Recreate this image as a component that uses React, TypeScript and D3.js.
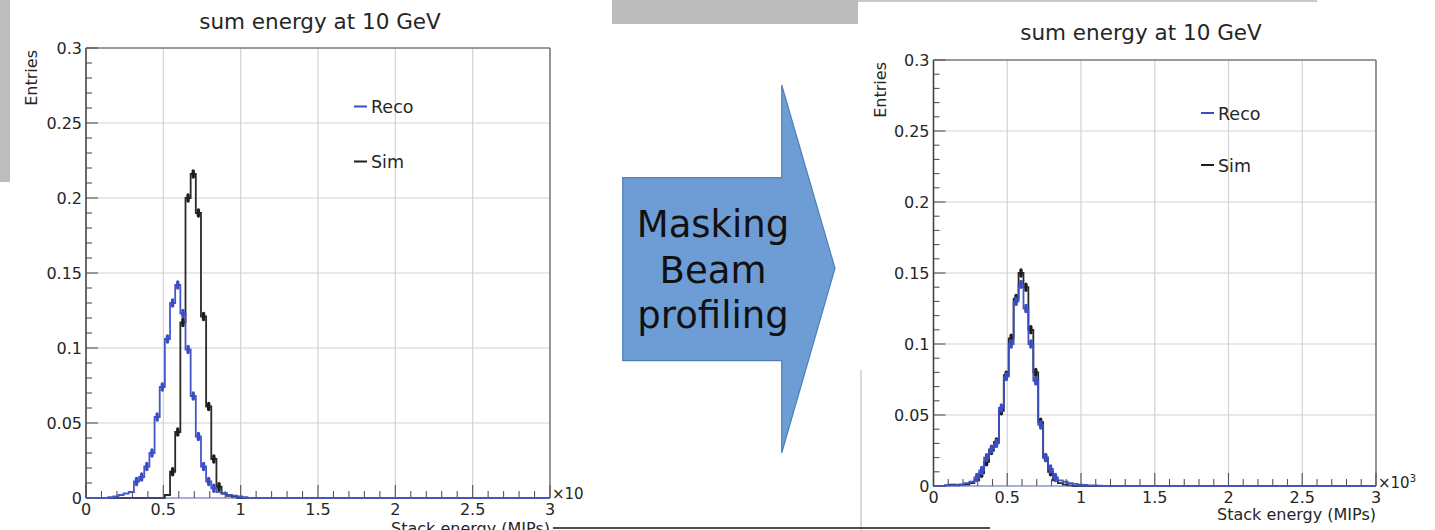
import React from 'react';
import * as d3 from 'd3';

// ---------- data ----------
const binStart = 0.01;
const binWidth = 1 / 30;
const xTickValues = [0, 0.5, 1, 1.5, 2, 2.5, 3];
const xTickLabels = ['0', '0.5', '1', '1.5', '2', '2.5', '3'];
const yTickValues = [0, 0.05, 0.1, 0.15, 0.2, 0.25, 0.3];
const yTickLabels = ['0', '0.05', '0.1', '0.15', '0.2', '0.25', '0.3'];
const seriesNames = ['Reco', 'Sim'];
const titleText = 'sum energy at 10 GeV';
const xAxisTitle = 'Stack energy (MIPs)';
const yAxisTitle = 'Entries';
const arrowLines = ['Masking', 'Beam', 'profiling'];

// left panel (before masking)
const leftReco = [0, 0, 0, 0, 0.0005, 0.001, 0.002, 0.003, 0.004, 0.011, 0.014, 0.021, 0.03, 0.054, 0.074, 0.106, 0.13, 0.142, 0.123, 0.099, 0.068, 0.041, 0.021, 0.011, 0.0065, 0.004, 0.003, 0.002, 0.0015, 0.001, 0.0005];
const leftSim = [0, 0, 0, 0, 0, 0, 0, 0, 0, 0, 0, 0, 0, 0, 0, 0.002, 0.0175, 0.044, 0.117, 0.2, 0.216, 0.19, 0.121, 0.061, 0.026, 0.0075, 0.003, 0.0015, 0.0007];
// right panel (after masking / beam profiling)
const rightReco = [0, 0, 0.0005, 0.0005, 0.001, 0.001, 0.002, 0.003, 0.006, 0.011, 0.02, 0.026, 0.03, 0.055, 0.077, 0.1, 0.13, 0.142, 0.125, 0.1, 0.074, 0.043, 0.02, 0.012, 0.006, 0.004, 0.003, 0.002, 0.0015, 0.001, 0.0008, 0.0005, 0.0005, 0.0003];
const rightSim = [0, 0, 0.0005, 0.001, 0.0005, 0.001, 0.001, 0.002, 0.004, 0.009, 0.017, 0.025, 0.031, 0.053, 0.078, 0.104, 0.132, 0.15, 0.14, 0.11, 0.08, 0.045, 0.02, 0.01, 0.004, 0.002, 0.001, 0.0005];

const FONT = 'DejaVu Sans, sans-serif';
const TXT = '#262626';
const BLUE = '#3a4ec4';
const BLACK = '#1e1e1e';

type PanelProps = {
  x0: number; x1: number; yB: number; yT: number;
  reco: number[]; sim: number[];
  titleX: number; titleY: number;
  entriesX: number;
  legX: number; legY1: number; legY2: number;
  expLabel: string; expSup: string; expY: number;
  xTitleY: number;
};

function Hist({ vals, x, y, color }: { vals: number[]; x: any; y: any; color: string }) {
  const pts: [number, number][] = [[0, 0]];
  vals.forEach((v, i) => pts.push([binStart + i * binWidth, v]));
  pts.push([binStart + vals.length * binWidth, 0]);
  pts.push([3, 0]);
  const line = d3.line<[number, number]>().x(d => x(d[0])).y(d => y(d[1])).curve(d3.curveStepAfter);
  return (
    <g>
      <path d={line(pts) || ''} fill="none" stroke={color} strokeWidth={1.8} opacity={0.95} />
      {vals.map((v, i) => v > 0.0045 ? (
        <line key={i}
          x1={x(binStart + (i + 0.5) * binWidth)} x2={x(binStart + (i + 0.5) * binWidth)}
          y1={y(v) - 3} y2={y(v) + 3}
          stroke={color} strokeWidth={3.4} strokeLinecap="round" />
      ) : null)}
    </g>
  );
}

function Panel(p: PanelProps) {
  const x = d3.scaleLinear().domain([0, 3]).range([p.x0, p.x1]);
  const y = d3.scaleLinear().domain([0, 0.3]).range([p.yB, p.yT]);
  const minorX = x.ticks(30);
  const minorY = y.ticks(30);
  return (
    <g fontFamily={FONT}>
      {/* grid */}
      {xTickValues.slice(1, -1).map(v => (
        <line key={'gx' + v} x1={x(v)} x2={x(v)} y1={p.yB} y2={p.yT} stroke="#d2d2d2" strokeWidth={1.2} />
      ))}
      {yTickValues.slice(1, -1).map(v => (
        <line key={'gy' + v} x1={p.x0} x2={p.x1} y1={y(v)} y2={y(v)} stroke="#d2d2d2" strokeWidth={1.2} />
      ))}
      {/* frame */}
      <line x1={p.x0} x2={p.x1} y1={p.yT} y2={p.yT} stroke="#7a7a7a" strokeWidth={1.6} />
      <line x1={p.x1} x2={p.x1} y1={p.yT} y2={p.yB} stroke="#7a7a7a" strokeWidth={1.6} />
      {/* ticks */}
      {minorY.map(v => {
        const major = yTickValues.some(t => Math.abs(t - v) < 1e-9);
        return <line key={'ty' + v} x1={p.x0} x2={p.x0 + (major ? 12 : 6)} y1={y(v)} y2={y(v)} stroke="#555" strokeWidth={1.1} />;
      })}
      {minorX.map(v => {
        const major = xTickValues.some(t => Math.abs(t - v) < 1e-9);
        return <line key={'tx' + v} x1={x(v)} x2={x(v)} y1={p.yB} y2={p.yB - (major ? 13 : 7)} stroke="#555" strokeWidth={1.1} />;
      })}
      {/* histograms */}
      <Hist vals={p.sim} x={x} y={y} color={BLACK} />
      <Hist vals={p.reco} x={x} y={y} color={BLUE} />
      {/* axes */}
      <line x1={p.x0} x2={p.x0} y1={p.yT} y2={p.yB} stroke="#444" strokeWidth={1.6} />
      <line x1={p.x0} x2={p.x1} y1={p.yB} y2={p.yB} stroke="#5560b8" strokeWidth={1.2} />
      {/* tick labels */}
      {yTickValues.map((v, i) => (
        <text key={'ly' + v} x={p.x0 - 4} y={y(v)} dy="0.36em" textAnchor="end" fontSize={16} fill={TXT}>{yTickLabels[i]}</text>
      ))}
      {xTickValues.map((v, i) => (
        <text key={'lx' + v} x={x(v)} y={p.yB + 17} textAnchor="middle" fontSize={16} fill={TXT}>{xTickLabels[i]}</text>
      ))}
      <text x={p.x1 + 2} y={p.expY} fontSize={15} fill={TXT}>{p.expLabel}
        {p.expSup ? <tspan fontSize={10} dy={-6}>{p.expSup}</tspan> : null}
      </text>
      {/* axis titles */}
      <text x={p.x1} y={p.xTitleY} textAnchor="end" fontSize={16} fill={TXT}>{xAxisTitle}</text>
      <text transform={`translate(${p.entriesX},${p.yT + 2}) rotate(-90)`} textAnchor="end" fontSize={16} fill={TXT}>{yAxisTitle}</text>
      {/* title */}
      <text x={p.titleX} y={p.titleY} textAnchor="middle" fontSize={21.5} fill={TXT}>{titleText}</text>
      {/* legend */}
      <line x1={p.legX} x2={p.legX + 13} y1={p.legY1} y2={p.legY1} stroke={BLUE} strokeWidth={2} />
      <text x={p.legX + 17} y={p.legY1 + 6.5} fontSize={17.5} fill={TXT}>{seriesNames[0]}</text>
      <line x1={p.legX} x2={p.legX + 13} y1={p.legY2} y2={p.legY2} stroke={BLACK} strokeWidth={2} />
      <text x={p.legX + 17} y={p.legY2 + 6.5} fontSize={17.5} fill={TXT}>{seriesNames[1]}</text>
    </g>
  );
}

export default function App() {
  const arrowPts: [number, number][] = [[622.7, 177.7], [781.7, 177.7], [781.7, 85], [835, 268.3], [781.7, 453], [781.7, 360.7], [622.7, 360.7]];
  return (
    <svg width={1435} height={530} style={{ position: 'absolute', left: 0, top: 0, background: '#fff' }}>
      <rect x={0} y={0} width={1435} height={530} fill="#fff" />
      {/* slide decorations */}
      <rect x={0} y={0} width={10} height={182} fill="#bdbdbd" />
      <rect x={612} y={0} width={246} height={24} fill="#bcbcbc" />
      <line x1={858} x2={1317} y1={1} y2={1} stroke="#c9c9c9" strokeWidth={2} />
      <line x1={861} x2={861} y1={370} y2={530} stroke="#d9d9d9" strokeWidth={2} />

      <Panel x0={86} x1={550} yB={498} yT={48} reco={leftReco} sim={leftSim}
        titleX={320} titleY={29} entriesX={37}
        legX={354} legY1={106.5} legY2={161.5}
        expLabel="×10" expSup="" expY={499} xTitleY={534} />
      <Panel x0={933.5} x1={1376} yB={486} yT={60} reco={rightReco} sim={rightSim}
        titleX={1141} titleY={40} entriesX={886}
        legX={1201} legY1={113} legY2={165}
        expLabel="×10" expSup="3" expY={488} xTitleY={520} />

      <line x1={553} x2={990} y1={528} y2={528} stroke="#4d4d4d" strokeWidth={2} />

      {/* arrow */}
      <polygon points={arrowPts.map(p => p.join(',')).join(' ')} fill="#6e9dd6" stroke="#4f7fb8" strokeWidth={1.2} />
      {arrowLines.map((t, i) => (
        <text key={t} x={713} y={237 + i * 45.5} textAnchor="middle" fontFamily={FONT} fontSize={37} fill="#111">{t}</text>
      ))}
    </svg>
  );
}
